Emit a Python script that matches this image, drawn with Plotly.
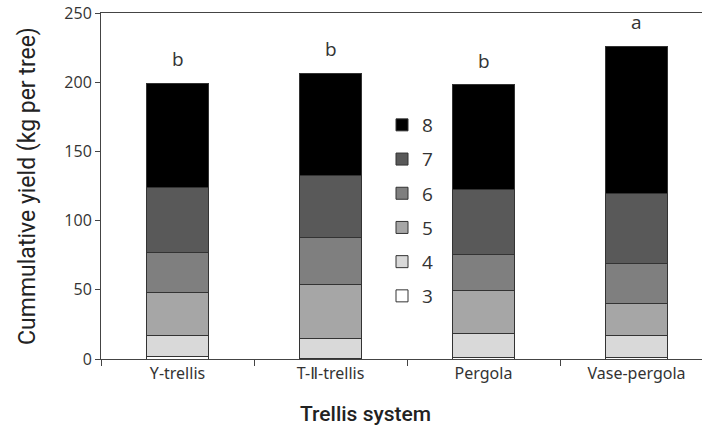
import plotly.graph_objects as go

# Trellis systems on the x axis
systems = ["Y-trellis", "T-Ⅱ-trellis", "Pergola", "Vase-pergola"]

# Yield per year since planting (kg per tree), stacked in cumulative order
yield_3 = [1.7, 0.5, 1.0, 1.0]
yield_4 = [15.4, 14.4, 17.3, 16.1]
yield_5 = [30.8, 38.7, 31.3, 22.8]
yield_6 = [28.9, 34.5, 25.7, 28.9]
yield_7 = [47.2, 44.2, 47.2, 50.8]
yield_8 = [75.1, 74.0, 75.8, 106.2]

# Mean separation letters shown above each bar
letters = ["b", "b", "b", "a"]

series = [
    ("3", yield_3, "#ffffff"),
    ("4", yield_4, "#d9d9d9"),
    ("5", yield_5, "#a6a6a6"),
    ("6", yield_6, "#7f7f7f"),
    ("7", yield_7, "#595959"),
    ("8", yield_8, "#000000"),
]

fig = go.Figure()
for i, (name, vals, color) in enumerate(series):
    fig.add_trace(go.Bar(
        x=systems, y=vals, name=name, legendgroup=name,
        legendrank=len(series) - i,  # newest year listed first
        width=0.405,
        marker=dict(color=color, line=dict(color="#333333", width=1)),
    ))

totals = [sum(v) for v in zip(yield_3, yield_4, yield_5, yield_6, yield_7, yield_8)]
for cat, tot, lab in zip(systems, totals, letters):
    fig.add_annotation(
        x=cat, y=tot, text=lab, showarrow=False, yanchor="middle", yshift=24,
        font=dict(family="Open Sans", size=19, color="#333333"),
    )

fig.add_annotation(
    xref="paper", yref="paper", x=(365 - 101) / 601, y=-0.16,
    text="Trellis system", showarrow=False, yanchor="middle",
    font=dict(family="Roboto", size=21, color="#222222", weight=500),
)

fig.update_layout(
    width=702, height=434,
    margin=dict(l=101, r=0, t=13, b=75, autoexpand=False),
    paper_bgcolor="white", plot_bgcolor="white",
    barmode="stack",
    showlegend=True,
    legend=dict(
        x=(382 - 101) / 601, xanchor="left",
        y=(359 - 106) / 346, yanchor="top",
        traceorder="grouped", tracegroupgap=6.5,
        bgcolor="rgba(0,0,0,0)",
        font=dict(family="Open Sans", size=19, color="#333333"),
    ),
    xaxis=dict(
        range=[-0.5, 3.428],
        showline=True, linecolor="#444444", linewidth=1, mirror=True,
        ticks="outside", tickson="boundaries", ticklen=6, tickcolor="#444444",
        showgrid=False, zeroline=False,
        tickfont=dict(family="Noto Sans, DejaVu Sans", size=16, color="#333333"),
    ),
    yaxis=dict(
        range=[0, 250], tickvals=[0, 50, 100, 150, 200, 250],
        showline=True, linecolor="#444444", linewidth=1,
        ticks="outside", ticklen=5, tickcolor="#444444",
        showgrid=False, zeroline=False,
        tickfont=dict(family="Open Sans", size=16, color="#333333"),
        title=dict(text="Cummulative yield (kg per tree)", standoff=22,
                   font=dict(family="Roboto", size=23, color="#222222")),
    ),
)

fig.write_html("out.html")
